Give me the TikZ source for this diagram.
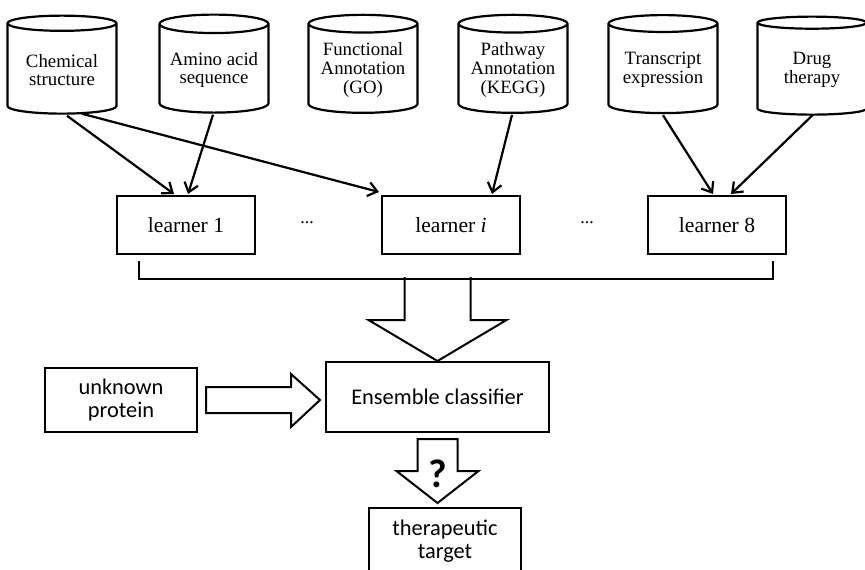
\documentclass[tikz,border=0pt]{standalone}
\usepackage{fontspec}
\setmainfont{Liberation Serif}
\newfontfamily\calibfont{Carlito}
\usetikzlibrary{shapes.geometric,calc,arrows.meta}

\tikzset{
  db/.style={cylinder, shape border rotate=90, draw, line width=1.1pt, aspect=0.2,
    minimum width=54.5pt, minimum height=49pt, align=center, inner sep=1pt,
    font=\fontsize{9.4}{9.4}\selectfont},
  learnerbox/.style={draw, line width=1pt, minimum width=69pt, minimum height=29pt,
    font=\fontsize{10.8}{12}\selectfont},
  calbox/.style={draw, line width=1pt, align=center,
    font=\calibfont\fontsize{11.2}{11.5}\selectfont},
  conn/.style={-{Straight Barb[length=4.5pt, width=7pt]}, line width=1.1pt},
  blockarrow/.style={draw, line width=1pt, line join=miter, fill=white},
}

\begin{document}
\begin{tikzpicture}[x=0.5pt, y=-0.5pt]
  \useasboundingbox (0,0) rectangle (865,569);
  \clip (0,0) rectangle (865,569);

  % -- Data sources --
  \node[db] (chem) at (62,70) {Chemical\\structure};
  \node[db] (amino) at (214,70) {Amino acid\\sequence};
  \node[db] (func) at (363,70) {Functional\\Annotation\\(GO)};
  \node[db] (path) at (513,70) {Pathway\\Annotation\\(KEGG)};
  \node[db] (trans) at (663,70) {Transcript\\expression};
  \node[db] (drug) at (812,70) {Drug\\therapy};

  % -- Learners --
  \node[learnerbox] (lone) at (186,225) {learner 1};
  \node[learnerbox] (li) at (451,225) {learner \textit{i}};
  \node[learnerbox] (leight) at (717,225) {learner 8};
  \node[font=\fontsize{9}{9}\selectfont] (dotsa) at (307,223) {...};
  \node[font=\fontsize{9}{9}\selectfont] (dotsb) at (587,223) {...};

  % -- Feature links --
  \draw[conn] ($(chem.south)+(5,1)$) -- ($(lone.north)+(-12,-1)$);
  \draw[conn] ($(chem.south)+(20,-1)$) -- ($(li.north west)+(-2,-3)$);
  \draw[conn] ($(amino.south)+(-1,1)$) -- ($(lone.north)+(2,-1)$);
  \draw[conn] ($(path.south)+(-1,1)$) -- ($(li.north)+(41,-1)$);
  \draw[conn] ($(trans.south)+(0,1)$) -- ($(leight.north)+(-4,-1)$);
  \draw[conn] ($(drug.south)+(1,-1)$) -- ($(leight.north)+(14,-1)$);

  % -- Ensemble --
  \node[calbox, minimum width=111.5pt, minimum height=35pt] (ens) at (437.5,397) {Ensemble classifier};
  \node[calbox, minimum width=76pt, minimum height=32pt] (unk) at (121,400) {unknown\\protein};
  \node[calbox, minimum width=76pt, minimum height=33pt] (target) at (445,541) {therapeutic\\target};

  % -- Block arrows --
  \draw[blockarrow] ($(ens.north)+(-33,-84)$) -- ($(ens.north)+(-33,-41)$)
    -- ($(ens.north)+(-69,-41)$) -- (ens.north) -- ($(ens.north)+(69,-41)$)
    -- ($(ens.north)+(33,-41)$) -- ($(ens.north)+(33,-84)$);
  \draw[blockarrow] ($(unk.east)+(8,-13)$) -- ($(unk.east)+(93,-13)$)
    -- ($(unk.east)+(93,-26)$) -- ($(unk.east)+(122,0)$) -- ($(unk.east)+(93,27)$)
    -- ($(unk.east)+(93,13)$) -- ($(unk.east)+(8,13)$) -- cycle;
  \draw[blockarrow] ($(ens.south)+(-20,6)$) -- ($(ens.south)+(20,6)$)
    -- ($(ens.south)+(20,38)$) -- ($(ens.south)+(41,38)$) -- ($(ens.south)+(0,70)$)
    -- ($(ens.south)+(-41,38)$) -- ($(ens.south)+(-20,38)$) -- cycle;
  \node[font=\calibfont\bfseries\fontsize{20}{20}\selectfont] (qmark) at ($(ens.south)+(0,41)$) {?};

  % -- Combining bracket --
  \draw[line width=1pt] ($(lone.south west)+(23,6)$) -- ++(0,18)
    -| ($(leight.south east)+(-14,6)$);

\end{tikzpicture}
\end{document}
